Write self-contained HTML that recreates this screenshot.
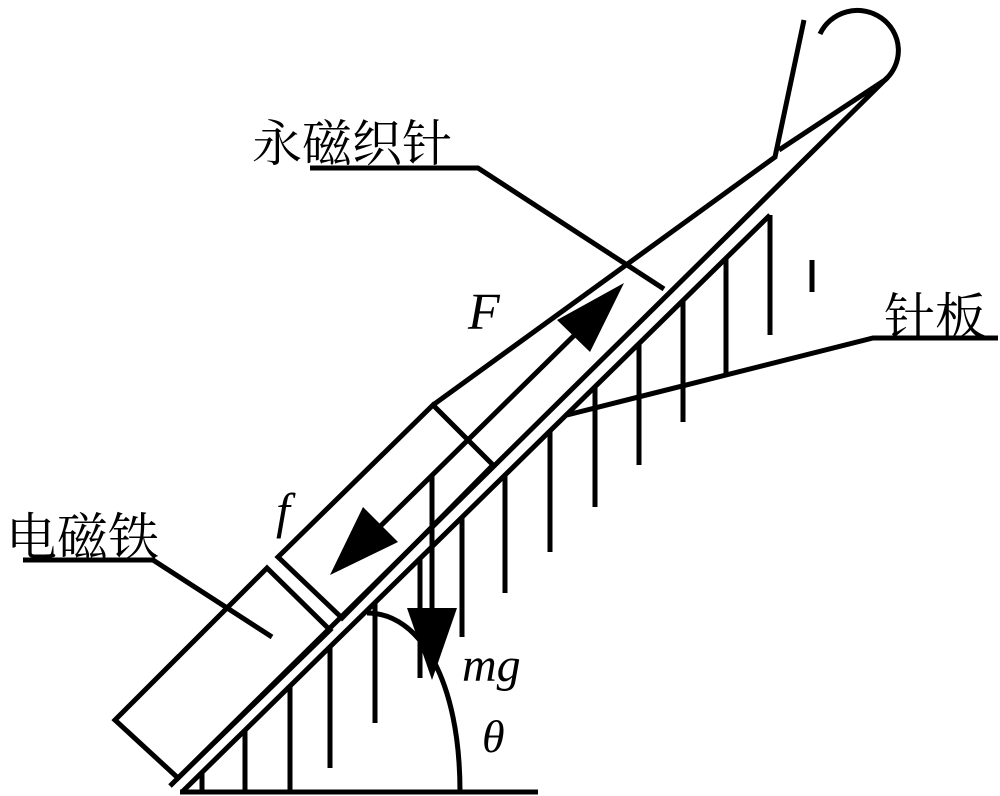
<!DOCTYPE html>
<html><head><meta charset="utf-8"><style>
html,body{margin:0;padding:0;background:#fff;}
svg{display:block;}
</style></head><body>
<svg width="1000" height="796" viewBox="0 0 1000 796" xmlns="http://www.w3.org/2000/svg">
<g stroke="#000" stroke-width="5" fill="none" stroke-linecap="butt" stroke-linejoin="miter">
<line x1="180" y1="792" x2="538" y2="792"/>
<line x1="182" y1="792" x2="770" y2="215"/>
<line x1="170" y1="786" x2="887" y2="78"/>
<polyline points="433,405 775,157 804,20"/>
<line x1="779" y1="150" x2="885" y2="80"/>
<path d="M820,34 A41,40 0 1 1 885,80"/>
<line x1="202" y1="772" x2="202" y2="792"/>
<line x1="245" y1="730" x2="245" y2="792"/>
<line x1="290" y1="686" x2="290" y2="792"/>
<line x1="330" y1="646" x2="330" y2="768"/>
<line x1="375" y1="602" x2="375" y2="723"/>
<line x1="420" y1="558" x2="420" y2="678"/>
<line x1="462" y1="517" x2="462" y2="637"/>
<line x1="505" y1="475" x2="505" y2="593"/>
<line x1="550" y1="431" x2="550" y2="552"/>
<line x1="595" y1="387" x2="595" y2="507"/>
<line x1="639" y1="344" x2="639" y2="465"/>
<line x1="683" y1="301" x2="683" y2="422"/>
<line x1="726" y1="258" x2="726" y2="373"/>
<line x1="770" y1="215" x2="770" y2="335"/>
<line x1="812" y1="260" x2="812" y2="292"/>
<polygon points="115,720 267,568 330,630 178,778"/>
<polygon points="278,557 433,405 493,465 342,618"/>
<line x1="350" y1="556" x2="600" y2="310"/>
<line x1="432" y1="475" x2="432" y2="640"/>
<path d="M367,613 C420,613 460,680 460,792"/>
<polyline points="310,168 478,168 664,289"/>
<polyline points="23,560 153,560 272,637"/>
<polyline points="998,338 873,338 567,415"/>
</g>
<polygon points="624,283 557,320 590,352" fill="#000"/>
<polygon points="330,575 363,507 398,542" fill="#000"/>
<polygon points="407,608 457,608 432,680" fill="#000"/>
<g font-family="'Noto Serif CJK SC', 'Noto Sans CJK SC', serif" fill="#000">
<text x="252" y="161" font-size="50">永磁织针</text>
<text x="6" y="555" font-size="51">电磁铁</text>
<text x="884" y="335" font-size="51">针板</text>
</g>
<g font-family="'Liberation Serif', 'DejaVu Serif', serif" font-style="italic" fill="#000">
<text x="468" y="329" font-size="52">F</text>
<text x="276" y="528" font-size="50">f</text>
<text x="462" y="681" font-size="48">mg</text>
<text x="482" y="752" font-size="46">θ</text>
</g>
</svg>
</body></html>
